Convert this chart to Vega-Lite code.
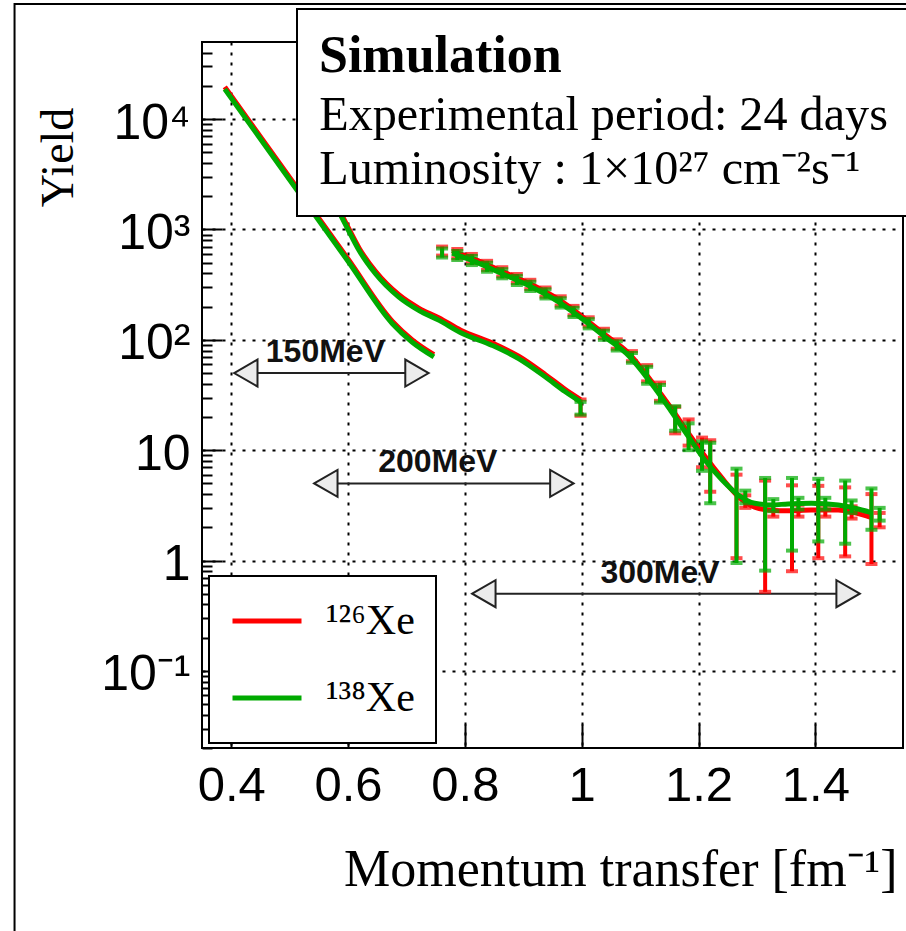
{
  "$schema": "https://vega.github.io/schema/vega-lite/v6.json",
  "width": 701,
  "height": 706,
  "autosize": {"type": "none"},
  "padding": {"left": 202, "top": 42, "right": 3, "bottom": 183},
  "background": "white",
  "config": {
    "view": {"stroke": "black", "strokeWidth": 2},
    "legend": {"strokeWidth": 2}
  },
  "datasets": {
    "ranges": [
      {"beam": "150MeV", "q": 0.425, "q2": 0.718, "yield": 50},
      {"beam": "200MeV", "q": 0.562, "q2": 0.966, "yield": 5},
      {"beam": "300MeV", "q": 0.8325, "q2": 1.456, "yield": 0.5}
    ],
    "curves": [
      {"iso": "¹³⁸Xe", "beam": "150MeV", "q": 0.389, "yield": 18700},
      {"iso": "¹³⁸Xe", "beam": "150MeV", "q": 0.5, "yield": 2820},
      {"iso": "¹³⁸Xe", "beam": "150MeV", "q": 0.6, "yield": 515},
      {"iso": "¹³⁸Xe", "beam": "150MeV", "q": 0.676, "yield": 140},
      {"iso": "¹³⁸Xe", "beam": "150MeV", "q": 0.71, "yield": 95},
      {"iso": "¹³⁸Xe", "beam": "150MeV", "q": 0.747, "yield": 70},
      {"iso": "¹³⁸Xe", "beam": "200MeV", "q": 0.55, "yield": 3500},
      {"iso": "¹³⁸Xe", "beam": "200MeV", "q": 0.585, "yield": 1430},
      {"iso": "¹³⁸Xe", "beam": "200MeV", "q": 0.6, "yield": 1000},
      {"iso": "¹³⁸Xe", "beam": "200MeV", "q": 0.619, "yield": 645},
      {"iso": "¹³⁸Xe", "beam": "200MeV", "q": 0.647, "yield": 397},
      {"iso": "¹³⁸Xe", "beam": "200MeV", "q": 0.687, "yield": 244},
      {"iso": "¹³⁸Xe", "beam": "200MeV", "q": 0.721, "yield": 185},
      {"iso": "¹³⁸Xe", "beam": "200MeV", "q": 0.756, "yield": 150},
      {"iso": "¹³⁸Xe", "beam": "200MeV", "q": 0.793, "yield": 116},
      {"iso": "¹³⁸Xe", "beam": "200MeV", "q": 0.847, "yield": 89},
      {"iso": "¹³⁸Xe", "beam": "200MeV", "q": 0.892, "yield": 67.6},
      {"iso": "¹³⁸Xe", "beam": "200MeV", "q": 0.938, "yield": 46},
      {"iso": "¹³⁸Xe", "beam": "200MeV", "q": 0.972, "yield": 33.8},
      {"iso": "¹³⁸Xe", "beam": "200MeV", "q": 0.998, "yield": 27.4},
      {"iso": "¹³⁸Xe", "beam": "300MeV", "q": 0.778, "yield": 610},
      {"iso": "¹³⁸Xe", "beam": "300MeV", "q": 0.812, "yield": 524},
      {"iso": "¹³⁸Xe", "beam": "300MeV", "q": 0.864, "yield": 397},
      {"iso": "¹³⁸Xe", "beam": "300MeV", "q": 0.915, "yield": 300},
      {"iso": "¹³⁸Xe", "beam": "300MeV", "q": 0.961, "yield": 220},
      {"iso": "¹³⁸Xe", "beam": "300MeV", "q": 1.0, "yield": 156},
      {"iso": "¹³⁸Xe", "beam": "300MeV", "q": 1.04, "yield": 106},
      {"iso": "¹³⁸Xe", "beam": "300MeV", "q": 1.08, "yield": 72},
      {"iso": "¹³⁸Xe", "beam": "300MeV", "q": 1.118, "yield": 41},
      {"iso": "¹³⁸Xe", "beam": "300MeV", "q": 1.152, "yield": 23},
      {"iso": "¹³⁸Xe", "beam": "300MeV", "q": 1.183, "yield": 13.2},
      {"iso": "¹³⁸Xe", "beam": "300MeV", "q": 1.211, "yield": 8.1},
      {"iso": "¹³⁸Xe", "beam": "300MeV", "q": 1.24, "yield": 5.4},
      {"iso": "¹³⁸Xe", "beam": "300MeV", "q": 1.268, "yield": 3.93},
      {"iso": "¹³⁸Xe", "beam": "300MeV", "q": 1.296, "yield": 3.3},
      {"iso": "¹³⁸Xe", "beam": "300MeV", "q": 1.325, "yield": 3.19},
      {"iso": "¹³⁸Xe", "beam": "300MeV", "q": 1.353, "yield": 3.26},
      {"iso": "¹³⁸Xe", "beam": "300MeV", "q": 1.393, "yield": 3.3},
      {"iso": "¹³⁸Xe", "beam": "300MeV", "q": 1.439, "yield": 3.19},
      {"iso": "¹³⁸Xe", "beam": "300MeV", "q": 1.468, "yield": 2.98},
      {"iso": "¹³⁸Xe", "beam": "300MeV", "q": 1.496, "yield": 2.72},
      {"iso": "¹²⁶Xe", "beam": "150MeV", "q": 0.389, "yield": 19600},
      {"iso": "¹²⁶Xe", "beam": "150MeV", "q": 0.5, "yield": 2960},
      {"iso": "¹²⁶Xe", "beam": "150MeV", "q": 0.6, "yield": 540},
      {"iso": "¹²⁶Xe", "beam": "150MeV", "q": 0.676, "yield": 147},
      {"iso": "¹²⁶Xe", "beam": "150MeV", "q": 0.71, "yield": 100},
      {"iso": "¹²⁶Xe", "beam": "150MeV", "q": 0.747, "yield": 73.5},
      {"iso": "¹²⁶Xe", "beam": "200MeV", "q": 0.55, "yield": 3680},
      {"iso": "¹²⁶Xe", "beam": "200MeV", "q": 0.585, "yield": 1500},
      {"iso": "¹²⁶Xe", "beam": "200MeV", "q": 0.6, "yield": 1050},
      {"iso": "¹²⁶Xe", "beam": "200MeV", "q": 0.619, "yield": 677},
      {"iso": "¹²⁶Xe", "beam": "200MeV", "q": 0.647, "yield": 417},
      {"iso": "¹²⁶Xe", "beam": "200MeV", "q": 0.687, "yield": 256},
      {"iso": "¹²⁶Xe", "beam": "200MeV", "q": 0.721, "yield": 194},
      {"iso": "¹²⁶Xe", "beam": "200MeV", "q": 0.756, "yield": 158},
      {"iso": "¹²⁶Xe", "beam": "200MeV", "q": 0.793, "yield": 122},
      {"iso": "¹²⁶Xe", "beam": "200MeV", "q": 0.847, "yield": 93.5},
      {"iso": "¹²⁶Xe", "beam": "200MeV", "q": 0.892, "yield": 71},
      {"iso": "¹²⁶Xe", "beam": "200MeV", "q": 0.938, "yield": 48.3},
      {"iso": "¹²⁶Xe", "beam": "200MeV", "q": 0.972, "yield": 35.5},
      {"iso": "¹²⁶Xe", "beam": "200MeV", "q": 0.998, "yield": 28.8},
      {"iso": "¹²⁶Xe", "beam": "300MeV", "q": 0.778, "yield": 640},
      {"iso": "¹²⁶Xe", "beam": "300MeV", "q": 0.812, "yield": 550},
      {"iso": "¹²⁶Xe", "beam": "300MeV", "q": 0.864, "yield": 417},
      {"iso": "¹²⁶Xe", "beam": "300MeV", "q": 0.915, "yield": 315},
      {"iso": "¹²⁶Xe", "beam": "300MeV", "q": 0.961, "yield": 231},
      {"iso": "¹²⁶Xe", "beam": "300MeV", "q": 1.0, "yield": 164},
      {"iso": "¹²⁶Xe", "beam": "300MeV", "q": 1.04, "yield": 111},
      {"iso": "¹²⁶Xe", "beam": "300MeV", "q": 1.08, "yield": 76},
      {"iso": "¹²⁶Xe", "beam": "300MeV", "q": 1.118, "yield": 43},
      {"iso": "¹²⁶Xe", "beam": "300MeV", "q": 1.152, "yield": 24.5},
      {"iso": "¹²⁶Xe", "beam": "300MeV", "q": 1.183, "yield": 14.2},
      {"iso": "¹²⁶Xe", "beam": "300MeV", "q": 1.211, "yield": 8.8},
      {"iso": "¹²⁶Xe", "beam": "300MeV", "q": 1.24, "yield": 5.6},
      {"iso": "¹²⁶Xe", "beam": "300MeV", "q": 1.268, "yield": 3.8},
      {"iso": "¹²⁶Xe", "beam": "300MeV", "q": 1.296, "yield": 3.05},
      {"iso": "¹²⁶Xe", "beam": "300MeV", "q": 1.325, "yield": 2.85},
      {"iso": "¹²⁶Xe", "beam": "300MeV", "q": 1.353, "yield": 2.82},
      {"iso": "¹²⁶Xe", "beam": "300MeV", "q": 1.393, "yield": 2.87},
      {"iso": "¹²⁶Xe", "beam": "300MeV", "q": 1.439, "yield": 2.87},
      {"iso": "¹²⁶Xe", "beam": "300MeV", "q": 1.468, "yield": 2.7},
      {"iso": "¹²⁶Xe", "beam": "300MeV", "q": 1.496, "yield": 2.45}
    ],
    "bins": [
      {"iso": "¹³⁸Xe", "beam": "200MeV", "q": 0.998, "lo": 21, "hi": 27.4},
      {"iso": "¹³⁸Xe", "beam": "300MeV", "q": 0.761, "lo": 557, "hi": 672},
      {"iso": "¹³⁸Xe", "beam": "300MeV", "q": 0.787, "lo": 528, "hi": 639},
      {"iso": "¹³⁸Xe", "beam": "300MeV", "q": 0.812, "lo": 476, "hi": 576},
      {"iso": "¹³⁸Xe", "beam": "300MeV", "q": 0.838, "lo": 414, "hi": 500},
      {"iso": "¹³⁸Xe", "beam": "300MeV", "q": 0.864, "lo": 361, "hi": 437},
      {"iso": "¹³⁸Xe", "beam": "300MeV", "q": 0.889, "lo": 314, "hi": 380},
      {"iso": "¹³⁸Xe", "beam": "300MeV", "q": 0.912, "lo": 277, "hi": 336},
      {"iso": "¹³⁸Xe", "beam": "300MeV", "q": 0.938, "lo": 237, "hi": 287},
      {"iso": "¹³⁸Xe", "beam": "300MeV", "q": 0.964, "lo": 196, "hi": 238},
      {"iso": "¹³⁸Xe", "beam": "300MeV", "q": 0.986, "lo": 161, "hi": 195},
      {"iso": "¹³⁸Xe", "beam": "300MeV", "q": 1.012, "lo": 127, "hi": 154},
      {"iso": "¹³⁸Xe", "beam": "300MeV", "q": 1.038, "lo": 100, "hi": 121},
      {"iso": "¹³⁸Xe", "beam": "300MeV", "q": 1.06, "lo": 80, "hi": 97},
      {"iso": "¹³⁸Xe", "beam": "300MeV", "q": 1.086, "lo": 62, "hi": 76},
      {"iso": "¹³⁸Xe", "beam": "300MeV", "q": 1.112, "lo": 40, "hi": 57},
      {"iso": "¹³⁸Xe", "beam": "300MeV", "q": 1.134, "lo": 27, "hi": 39},
      {"iso": "¹³⁸Xe", "beam": "300MeV", "q": 1.16, "lo": 15, "hi": 25},
      {"iso": "¹³⁸Xe", "beam": "300MeV", "q": 1.183, "lo": 10, "hi": 17.5},
      {"iso": "¹³⁸Xe", "beam": "300MeV", "q": 1.206, "lo": 6.5, "hi": 12},
      {"iso": "¹³⁸Xe", "beam": "300MeV", "q": 1.22, "lo": 3.3, "hi": 11.7},
      {"iso": "¹³⁸Xe", "beam": "300MeV", "q": 1.265, "lo": 0.95, "hi": 6.8},
      {"iso": "¹³⁸Xe", "beam": "300MeV", "q": 1.28, "lo": 3.3, "hi": 4.3},
      {"iso": "¹³⁸Xe", "beam": "300MeV", "q": 1.314, "lo": 0.81, "hi": 5.6},
      {"iso": "¹³⁸Xe", "beam": "300MeV", "q": 1.328, "lo": 2.8, "hi": 3.6},
      {"iso": "¹³⁸Xe", "beam": "300MeV", "q": 1.36, "lo": 1.23, "hi": 5.6},
      {"iso": "¹³⁸Xe", "beam": "300MeV", "q": 1.371, "lo": 2.9, "hi": 3.7},
      {"iso": "¹³⁸Xe", "beam": "300MeV", "q": 1.405, "lo": 1.49, "hi": 5.5},
      {"iso": "¹³⁸Xe", "beam": "300MeV", "q": 1.417, "lo": 2.9, "hi": 3.7},
      {"iso": "¹³⁸Xe", "beam": "300MeV", "q": 1.451, "lo": 1.42, "hi": 5.3},
      {"iso": "¹³⁸Xe", "beam": "300MeV", "q": 1.462, "lo": 2.7, "hi": 3.5},
      {"iso": "¹³⁸Xe", "beam": "300MeV", "q": 1.496, "lo": 1.9, "hi": 4.5},
      {"iso": "¹³⁸Xe", "beam": "300MeV", "q": 1.51, "lo": 2.3, "hi": 3.0},
      {"iso": "¹²⁶Xe", "beam": "200MeV", "q": 0.998, "lo": 20.5, "hi": 28.8},
      {"iso": "¹²⁶Xe", "beam": "300MeV", "q": 0.761, "lo": 580, "hi": 700},
      {"iso": "¹²⁶Xe", "beam": "300MeV", "q": 0.787, "lo": 550, "hi": 665},
      {"iso": "¹²⁶Xe", "beam": "300MeV", "q": 0.812, "lo": 495, "hi": 600},
      {"iso": "¹²⁶Xe", "beam": "300MeV", "q": 0.838, "lo": 430, "hi": 520},
      {"iso": "¹²⁶Xe", "beam": "300MeV", "q": 0.864, "lo": 375, "hi": 455},
      {"iso": "¹²⁶Xe", "beam": "300MeV", "q": 0.889, "lo": 327, "hi": 395},
      {"iso": "¹²⁶Xe", "beam": "300MeV", "q": 0.912, "lo": 288, "hi": 350},
      {"iso": "¹²⁶Xe", "beam": "300MeV", "q": 0.938, "lo": 246, "hi": 298},
      {"iso": "¹²⁶Xe", "beam": "300MeV", "q": 0.964, "lo": 204, "hi": 248},
      {"iso": "¹²⁶Xe", "beam": "300MeV", "q": 0.986, "lo": 167, "hi": 203},
      {"iso": "¹²⁶Xe", "beam": "300MeV", "q": 1.012, "lo": 132, "hi": 160},
      {"iso": "¹²⁶Xe", "beam": "300MeV", "q": 1.038, "lo": 104, "hi": 126},
      {"iso": "¹²⁶Xe", "beam": "300MeV", "q": 1.06, "lo": 83, "hi": 101},
      {"iso": "¹²⁶Xe", "beam": "300MeV", "q": 1.086, "lo": 64, "hi": 79},
      {"iso": "¹²⁶Xe", "beam": "300MeV", "q": 1.112, "lo": 42, "hi": 59},
      {"iso": "¹²⁶Xe", "beam": "300MeV", "q": 1.134, "lo": 28, "hi": 41},
      {"iso": "¹²⁶Xe", "beam": "300MeV", "q": 1.16, "lo": 14.2, "hi": 24.7},
      {"iso": "¹²⁶Xe", "beam": "300MeV", "q": 1.183, "lo": 11, "hi": 19},
      {"iso": "¹²⁶Xe", "beam": "300MeV", "q": 1.206, "lo": 7, "hi": 13},
      {"iso": "¹²⁶Xe", "beam": "300MeV", "q": 1.22, "lo": 4.2, "hi": 12.3},
      {"iso": "¹²⁶Xe", "beam": "300MeV", "q": 1.265, "lo": 1.05, "hi": 6},
      {"iso": "¹²⁶Xe", "beam": "300MeV", "q": 1.28, "lo": 3, "hi": 3.9},
      {"iso": "¹²⁶Xe", "beam": "300MeV", "q": 1.314, "lo": 0.52, "hi": 5.3},
      {"iso": "¹²⁶Xe", "beam": "300MeV", "q": 1.328, "lo": 2.5, "hi": 3.2},
      {"iso": "¹²⁶Xe", "beam": "300MeV", "q": 1.36, "lo": 0.8, "hi": 4.8},
      {"iso": "¹²⁶Xe", "beam": "300MeV", "q": 1.371, "lo": 2.5, "hi": 3.2},
      {"iso": "¹²⁶Xe", "beam": "300MeV", "q": 1.405, "lo": 1.05, "hi": 4.75},
      {"iso": "¹²⁶Xe", "beam": "300MeV", "q": 1.417, "lo": 2.5, "hi": 3.2},
      {"iso": "¹²⁶Xe", "beam": "300MeV", "q": 1.451, "lo": 1.09, "hi": 4.6},
      {"iso": "¹²⁶Xe", "beam": "300MeV", "q": 1.462, "lo": 2.4, "hi": 3.1},
      {"iso": "¹²⁶Xe", "beam": "300MeV", "q": 1.496, "lo": 0.93, "hi": 4},
      {"iso": "¹²⁶Xe", "beam": "300MeV", "q": 1.51, "lo": 2, "hi": 2.7}
    ],
    "notes": [
      {"note": "Experimental period: 24 days"},
      {"note": "Luminosity : 1×10²⁷ cm⁻²s⁻¹"}
    ]
  },
  "layer": [
    {
      "data": {"name": "ranges"},
      "mark": {"type": "rule", "color": "#222222", "strokeWidth": 2},
      "encoding": {
        "x": {
          "field": "q", "type": "quantitative",
          "scale": {"domain": [0.35, 1.55], "nice": false, "zero": false},
          "axis": {
            "values": [0.4, 0.6, 0.8, 1, 1.2, 1.4],
            "format": "~g",
            "domain": false,
            "grid": true, "gridColor": "black", "gridDash": [3, 7], "gridWidth": 2,
            "ticks": true, "tickSize": -24, "tickWidth": 2, "tickColor": "black",
            "labelFont": "Liberation Sans", "labelFontSize": 49, "labelColor": "black",
            "labelBaseline": "alphabetic", "labelPadding": 76,
            "title": "Momentum transfer [fm⁻¹]",
            "titleFont": "Liberation Serif", "titleFontSize": 52, "titleFontWeight": "normal", "titleColor": "black",
            "titleX": 695, "titleY": 137, "titleAlign": "right", "titleBaseline": "alphabetic"
          }
        },
        "x2": {"field": "q2"},
        "y": {
          "field": "yield", "type": "quantitative", "title": "Yield",
          "scale": {"type": "log", "domain": [0.02, 50000], "nice": false},
          "axis": {
            "values": [0.02, 0.03, 0.04, 0.05, 0.06, 0.07, 0.08, 0.09, 0.1, 0.2, 0.3, 0.4, 0.5, 0.6, 0.7, 0.8, 0.9, 1, 2, 3, 4, 5, 6, 7, 8, 9, 10, 20, 30, 40, 50, 60, 70, 80, 90, 100, 200, 300, 400, 500, 600, 700, 800, 900, 1000, 2000, 3000, 4000, 5000, 6000, 7000, 8000, 9000, 10000, 20000, 30000, 40000],
            "labelExpr": "datum.value === 0.1 ? '10⁻¹' : datum.value === 1 ? '1' : datum.value === 10 ? '10' : datum.value === 100 ? '10²' : datum.value === 1000 ? '10³' : datum.value === 10000 ? '10⁴' : ''",
            "domain": false,
            "grid": true, "gridColor": "black", "gridDash": [3, 7], "gridWidth": 2,
            "gridOpacity": {"condition": {"test": "indexof([0.1, 1, 10, 100, 1000, 10000], datum.value) >= 0", "value": 1}, "value": 0},
            "ticks": true, "tickWidth": 2, "tickColor": "black",
            "tickSize": {"condition": {"test": "indexof([0.1, 1, 10, 100, 1000, 10000], datum.value) >= 0", "value": -20}, "value": -10},
            "labelFont": "Liberation Sans", "labelFontSize": 50, "labelColor": "black",
            "labelPadding": 32, "labelBaseline": "middle", "labelOffset": 4,
            "titleFont": "Liberation Serif", "titleFontSize": 46, "titleFontWeight": "normal", "titleColor": "black",
            "titleAngle": 270, "titleX": -130, "titleY": 115, "titleAlign": "center", "titleBaseline": "alphabetic"
          }
        }
      }
    },
    {
      "data": {"name": "ranges"},
      "mark": {"type": "point", "shape": "triangle-left", "size": 729, "filled": true, "fill": "#ececec", "stroke": "#222222", "strokeWidth": 2, "opacity": 1},
      "encoding": {
        "x": {"field": "q", "type": "quantitative"},
        "y": {"field": "yield", "type": "quantitative", "title": "Yield"}
      }
    },
    {
      "data": {"name": "ranges"},
      "mark": {"type": "point", "shape": "triangle-right", "size": 729, "filled": true, "fill": "#ececec", "stroke": "#222222", "strokeWidth": 2, "opacity": 1},
      "encoding": {
        "x": {"field": "q2", "type": "quantitative"},
        "y": {"field": "yield", "type": "quantitative", "title": "Yield"}
      }
    },
    {
      "data": {"name": "ranges"},
      "transform": [
        {"fold": ["q", "q2"], "as": ["end", "qv"]},
        {"aggregate": [{"op": "mean", "field": "qv", "as": "qm"}], "groupby": ["beam", "yield"]}
      ],
      "mark": {"type": "text", "font": "Liberation Sans", "fontSize": 32, "fontWeight": "bold", "color": "#111111", "baseline": "alphabetic", "align": "center", "dy": -11, "dx": -6},
      "encoding": {
        "x": {"field": "qm", "type": "quantitative"},
        "y": {"field": "yield", "type": "quantitative", "title": "Yield"},
        "text": {"field": "beam"}
      }
    },
    {
      "data": {"name": "bins"},
      "transform": [{"filter": "datum.iso === '¹²⁶Xe'"}],
      "mark": {"type": "errorbar", "thickness": 4, "ticks": {"size": 12, "thickness": 4}},
      "encoding": {
        "x": {"field": "q", "type": "quantitative"},
        "y": {"field": "lo", "type": "quantitative", "title": "Yield"},
        "y2": {"field": "hi"},
        "color": {
          "field": "iso", "type": "nominal",
          "scale": {"domain": ["¹²⁶Xe", "¹³⁸Xe"], "range": ["#ff0000", "#00aa00"]},
          "legend": {
            "orient": "none", "legendX": 7, "legendY": 534, "title": null,
            "symbolType": "stroke", "symbolSize": 4761, "symbolStrokeWidth": 5, "symbolOpacity": 1,
            "labelFont": "Liberation Serif", "labelFontSize": 42, "labelColor": "black", "labelOffset": 22,
            "clipHeight": 48, "padding": 21, "rowPadding": 29,
            "fillColor": "white", "strokeColor": "black",
            "encode": {"symbols": {"update": {"opacity": {"value": 1}, "strokeOpacity": {"value": 1}}}}
          }
        }
      }
    },
    {
      "data": {"name": "curves"},
      "transform": [{"filter": "datum.iso === '¹²⁶Xe'"}],
      "mark": {"type": "line", "strokeWidth": 5, "interpolate": "monotone"},
      "encoding": {
        "x": {"field": "q", "type": "quantitative"},
        "y": {"field": "yield", "type": "quantitative", "title": "Yield"},
        "detail": {"field": "beam"},
        "color": {"field": "iso", "type": "nominal", "scale": {"domain": ["¹²⁶Xe", "¹³⁸Xe"], "range": ["#ff0000", "#00aa00"]}}
      }
    },
    {
      "data": {"name": "bins"},
      "transform": [{"filter": "datum.iso === '¹³⁸Xe'"}],
      "mark": {"type": "errorbar", "thickness": 4, "ticks": {"size": 12, "thickness": 4}},
      "encoding": {
        "x": {"field": "q", "type": "quantitative"},
        "y": {"field": "lo", "type": "quantitative", "title": "Yield"},
        "y2": {"field": "hi"},
        "color": {"field": "iso", "type": "nominal", "scale": {"domain": ["¹²⁶Xe", "¹³⁸Xe"], "range": ["#ff0000", "#00aa00"]}}
      }
    },
    {
      "data": {"name": "curves"},
      "transform": [{"filter": "datum.iso === '¹³⁸Xe'"}],
      "mark": {"type": "line", "strokeWidth": 5, "interpolate": "monotone"},
      "encoding": {
        "x": {"field": "q", "type": "quantitative"},
        "y": {"field": "yield", "type": "quantitative", "title": "Yield"},
        "detail": {"field": "beam"},
        "color": {"field": "iso", "type": "nominal", "scale": {"domain": ["¹²⁶Xe", "¹³⁸Xe"], "range": ["#ff0000", "#00aa00"]}}
      }
    },
    {
      "data": {"values": [{}]},
      "mark": {"type": "rect", "fillOpacity": 0, "stroke": "black", "strokeWidth": 2},
      "encoding": {
        "x": {"datum": 0.0291},
        "x2": {"datum": 2.0},
        "y": {"datum": 110300},
        "y2": {"datum": 0.00001}
      }
    },
    {
      "data": {"name": "notes"},
      "mark": {"type": "point", "opacity": 0},
      "encoding": {
        "shape": {
          "field": "note", "type": "nominal",
          "scale": {"domain": ["Experimental period: 24 days", "Luminosity : 1×10²⁷ cm⁻²s⁻¹"], "range": ["circle", "circle"]},
          "legend": {
            "orient": "none", "legendX": 95, "legendY": -33,
            "title": "Simulation",
            "titleFont": "Liberation Serif", "titleFontSize": 52, "titleFontWeight": "bold", "titleColor": "black", "titleLimit": 2000, "titlePadding": 9,
            "labelFont": "Liberation Serif", "labelFontSize": 48.2, "labelColor": "black", "labelLimit": 2000, "labelOffset": -48,
            "symbolSize": 0, "symbolOpacity": 0, "symbolStrokeWidth": 0,
            "padding": 22, "rowPadding": 5,
            "fillColor": "white", "strokeColor": "black"
          }
        }
      }
    }
  ]
}
